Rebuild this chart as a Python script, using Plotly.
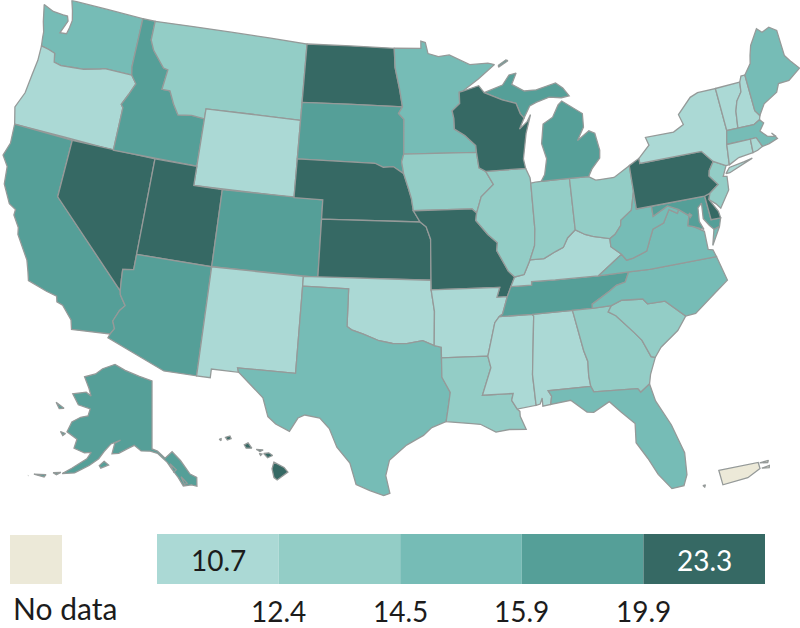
import plotly.graph_objects as go

# Legend breaks, colours
breaks = [10.7, 12.4, 14.5, 15.9, 19.9, 23.3]
bin_colors = ["#abd9d5", "#93cdc6", "#76bcb6", "#559f98", "#366964"]
no_data_color = "#ece9d8"
border_color = "#959a99"

# Estimated state values (read by colour class from the picture)
state_values = {
 "WA":15.0,"OR":11.5,"CA":17.0,"NV":21.0,"ID":17.5,"MT":13.5,"WY":11.5,"UT":21.5,"CO":17.0,"AZ":17.0,
 "NM":11.5,"ND":21.0,"SD":17.0,"NE":21.0,"KS":21.0,"OK":11.5,"TX":15.0,"MN":15.0,"IA":13.5,"MO":21.0,
 "AR":11.5,"LA":13.5,"WI":21.0,"IL":13.5,"MI":17.0,"IN":13.5,"OH":13.5,"KY":11.5,"TN":17.0,"MS":11.5,
 "AL":11.5,"GA":13.5,"FL":15.0,"SC":13.5,"NC":15.0,"VA":15.0,"WV":15.0,"PA":21.0,"NY":11.5,"NJ":13.5,
 "MD":17.0,"DE":23.3,"DC":15.0,"VT":11.5,"NH":11.5,"ME":15.0,"MA":15.0,"CT":12.0,"RI":11.5,"AK":17.0,"HI":21.0,
}

# State outlines (lon, lat)
outlines = {
"WA":[[(-124.73,48.38),(-123.9,48.17),(-123.1,48.15),(-122.75,48.15),(-122.6,47.9),(-122.95,47.2),(-122.45,47.25),(-122.35,47.6),(-122.3,48.0),(-122.5,48.5),(-122.76,49.0),(-117.03,49.0),(-117.04,46.42),(-116.92,46.0),(-118.98,46.0),(-119.3,45.93),(-120.5,45.7),(-121.2,45.65),(-122.2,45.57),(-122.75,45.65),(-122.9,46.1),(-123.4,46.2),(-124.0,46.27),(-124.1,46.7),(-124.15,47.0),(-124.4,47.5)]],
"OR":[[(-124.0,46.27),(-123.4,46.2),(-122.9,46.1),(-122.75,45.65),(-122.2,45.57),(-121.2,45.65),(-120.5,45.7),(-119.3,45.93),(-118.98,46.0),(-116.92,46.0),(-116.48,45.6),(-116.85,44.95),(-117.2,44.4),(-117.03,44.25),(-117.03,42.0),(-124.21,42.0),(-124.55,42.85),(-124.15,43.7),(-124.05,44.7),(-123.95,45.5)]],
"CA":[[(-124.21,42.0),(-120.0,42.0),(-120.0,39.0),(-114.63,35.0),(-114.57,34.8),(-114.14,34.3),(-114.43,34.0),(-114.72,33.4),(-114.52,33.03),(-114.72,32.72),(-117.12,32.53),(-117.28,33.0),(-118.0,33.65),(-118.4,33.75),(-118.5,34.03),(-119.2,34.15),(-120.47,34.45),(-120.65,34.9),(-120.9,35.45),(-121.9,36.6),(-122.0,36.95),(-122.5,37.5),(-122.5,37.8),(-123.0,38.0),(-123.7,38.9),(-123.85,39.8),(-124.35,40.3),(-124.1,41.0)]],
"NV":[[(-120.0,42.0),(-114.04,42.0),(-114.04,36.2),(-114.74,36.1),(-114.7,35.6),(-114.63,35.0),(-120.0,39.0)]],
"ID":[[(-117.03,49.0),(-116.05,49.0),(-116.05,48.0),(-115.7,47.5),(-114.7,46.7),(-114.35,46.65),(-114.5,45.6),(-113.9,45.6),(-113.45,44.95),(-113.0,44.45),(-112.0,44.55),(-111.05,44.48),(-111.05,42.0),(-117.03,42.0),(-117.03,44.25),(-117.2,44.4),(-116.85,44.95),(-116.48,45.6),(-116.92,46.0),(-117.04,46.42)]],
"MT":[[(-116.05,49.0),(-104.05,49.0),(-104.05,45.0),(-111.05,45.0),(-111.05,44.48),(-112.0,44.55),(-113.0,44.45),(-113.45,44.95),(-113.9,45.6),(-114.5,45.6),(-114.35,46.65),(-114.7,46.7),(-115.7,47.5),(-116.05,48.0)]],
"WY":[[(-111.05,45.0),(-104.05,45.0),(-104.05,41.0),(-111.05,41.0)]],
"UT":[[(-114.04,42.0),(-111.05,42.0),(-111.05,41.0),(-109.05,41.0),(-109.05,37.0),(-114.04,37.0)]],
"CO":[[(-109.05,41.0),(-102.05,41.0),(-102.05,37.0),(-109.05,37.0)]],
"AZ":[[(-114.04,37.0),(-109.05,37.0),(-109.05,31.33),(-111.07,31.33),(-114.81,32.5),(-114.72,32.72),(-114.52,33.03),(-114.72,33.4),(-114.43,34.0),(-114.14,34.3),(-114.57,34.8),(-114.63,35.0),(-114.7,35.6),(-114.74,36.1),(-114.04,36.2)]],
"NM":[[(-109.05,37.0),(-103.0,37.0),(-103.04,32.0),(-106.62,32.0),(-106.53,31.78),(-108.21,31.78),(-108.21,31.33),(-109.05,31.33)]],
"ND":[[(-104.05,49.0),(-97.23,49.0),(-97.15,48.0),(-96.8,46.9),(-96.56,45.94),(-104.05,45.94)]],
"SD":[[(-104.05,45.94),(-96.56,45.94),(-96.85,45.6),(-96.45,45.3),(-96.45,43.5),(-96.6,43.1),(-96.45,42.49),(-97.2,42.85),(-97.9,42.8),(-98.5,43.0),(-104.05,43.0)]],
"NE":[[(-104.05,43.0),(-98.5,43.0),(-97.9,42.8),(-97.2,42.85),(-96.45,42.49),(-96.1,41.7),(-95.9,41.2),(-95.77,40.58),(-95.31,40.0),(-102.05,40.0),(-102.05,41.0),(-104.05,41.0)]],
"KS":[[(-102.05,40.0),(-95.31,40.0),(-94.9,39.75),(-94.61,39.11),(-94.62,37.0),(-102.05,37.0)]],
"OK":[[(-103.0,37.0),(-94.62,37.0),(-94.62,36.5),(-94.43,35.4),(-94.48,33.64),(-95.2,33.9),(-96.2,33.75),(-97.1,33.75),(-97.95,33.88),(-98.95,34.2),(-99.7,34.4),(-100.0,34.56),(-100.0,36.5),(-103.0,36.5)]],
"TX":[[(-103.0,36.5),(-100.0,36.5),(-100.0,34.56),(-99.7,34.4),(-98.95,34.2),(-97.95,33.88),(-97.1,33.75),(-96.2,33.75),(-95.2,33.9),(-94.48,33.64),(-94.04,33.55),(-94.04,32.0),(-93.55,31.2),(-93.7,30.4),(-93.84,29.7),(-94.7,29.4),(-95.2,29.0),(-96.2,28.5),(-97.2,27.7),(-97.4,26.9),(-97.15,25.97),(-97.5,25.85),(-98.3,26.1),(-99.1,26.4),(-99.5,27.5),(-100.3,28.3),(-100.8,29.25),(-101.4,29.77),(-102.3,29.88),(-102.7,29.7),(-103.15,28.98),(-104.0,29.3),(-104.5,29.65),(-104.9,30.6),(-106.53,31.78),(-106.62,32.0),(-103.04,32.0)]],
"MN":[[(-97.23,49.0),(-95.15,49.0),(-95.15,49.38),(-94.8,49.3),(-94.6,48.72),(-93.8,48.55),(-92.95,48.62),(-91.4,48.07),(-90.0,48.1),(-89.5,48.0),(-90.8,47.3),(-92.01,46.71),(-92.29,46.66),(-92.29,46.07),(-92.87,45.7),(-92.76,45.3),(-92.75,44.75),(-92.0,44.4),(-91.25,43.85),(-91.22,43.5),(-96.45,43.5),(-96.45,45.3),(-96.85,45.6),(-96.56,45.94),(-96.8,46.9),(-97.15,48.0)]],
"IA":[[(-96.45,43.5),(-91.22,43.5),(-91.1,42.7),(-90.64,42.5),(-90.15,41.8),(-91.05,41.2),(-91.42,40.38),(-91.72,40.6),(-95.77,40.58),(-95.9,41.2),(-96.1,41.7),(-96.45,42.49),(-96.6,43.1)]],
"MO":[[(-95.77,40.58),(-91.72,40.6),(-91.42,40.38),(-91.5,40.0),(-90.73,39.25),(-90.12,38.8),(-90.2,38.4),(-89.52,37.3),(-89.13,36.98),(-89.42,36.5),(-89.7,36.0),(-90.37,36.0),(-90.15,36.5),(-94.62,36.5),(-94.62,37.0),(-94.61,39.11),(-94.9,39.75),(-95.31,40.0)]],
"AR":[[(-94.62,36.5),(-90.15,36.5),(-90.37,36.0),(-89.7,36.0),(-90.07,35.13),(-90.3,35.0),(-90.6,34.7),(-91.15,33.0),(-94.04,33.0),(-94.04,33.55),(-94.48,33.64),(-94.43,35.4)]],
"LA":[[(-94.04,33.0),(-91.15,33.0),(-91.0,32.4),(-91.6,31.0),(-89.73,31.0),(-89.85,30.65),(-89.55,30.18),(-89.4,30.05),(-89.4,29.8),(-89.1,29.1),(-90.1,29.15),(-90.9,29.05),(-91.8,29.5),(-92.3,29.55),(-93.84,29.7),(-93.7,30.4),(-93.55,31.2),(-94.04,32.0)]],
"MS":[[(-90.3,35.0),(-88.2,35.0),(-88.1,34.9),(-88.47,31.9),(-88.4,30.3),(-89.55,30.18),(-89.85,30.65),(-89.73,31.0),(-91.6,31.0),(-91.0,32.4),(-91.15,33.0),(-90.6,34.7)]],
"AL":[[(-88.2,35.0),(-85.6,35.0),(-85.18,32.87),(-85.0,32.3),(-85.05,31.55),(-85.0,31.0),(-87.6,31.0),(-87.42,30.7),(-87.52,30.28),(-88.0,30.23),(-88.0,30.65),(-88.15,30.35),(-88.4,30.3),(-88.47,31.9),(-88.1,34.9)]],
"TN":[[(-90.3,35.0),(-90.07,35.13),(-89.7,36.0),(-89.42,36.5),(-88.07,36.5),(-88.05,36.68),(-86.5,36.65),(-83.68,36.6),(-81.68,36.59),(-82.0,36.1),(-82.6,36.0),(-83.1,35.75),(-84.3,35.2),(-84.32,34.99),(-85.6,35.0),(-88.2,35.0)]],
"KY":[[(-89.42,36.5),(-89.13,36.98),(-88.5,37.07),(-88.03,37.8),(-87.1,37.8),(-86.3,38.1),(-85.75,38.27),(-85.4,38.73),(-84.82,39.1),(-84.2,38.8),(-83.7,38.65),(-82.59,38.42),(-82.6,38.0),(-81.97,37.54),(-83.68,36.6),(-86.5,36.65),(-88.05,36.68),(-88.07,36.5)]],
"IL":[[(-90.64,42.5),(-87.8,42.5),(-87.55,42.0),(-87.53,41.72),(-87.53,39.35),(-87.65,38.5),(-88.03,37.8),(-88.5,37.07),(-89.13,36.98),(-89.52,37.3),(-90.2,38.4),(-90.12,38.8),(-90.73,39.25),(-91.5,40.0),(-91.42,40.38),(-91.05,41.2),(-90.15,41.8)]],
"IN":[[(-87.53,41.72),(-87.2,41.75),(-86.8,41.76),(-84.8,41.76),(-84.82,39.1),(-85.4,38.73),(-85.75,38.27),(-86.3,38.1),(-87.1,37.8),(-88.03,37.8),(-87.65,38.5),(-87.53,39.35)]],
"OH":[[(-84.8,41.76),(-83.45,41.73),(-83.0,41.5),(-82.7,41.5),(-81.7,41.5),(-80.52,41.98),(-80.52,40.64),(-80.87,39.7),(-81.68,39.27),(-81.75,39.0),(-82.2,38.6),(-82.59,38.42),(-83.7,38.65),(-84.2,38.8),(-84.82,39.1)]],
"MI":[[(-86.8,41.76),(-84.8,41.76),(-83.45,41.73),(-83.15,42.1),(-82.5,42.6),(-82.42,43.0),(-82.6,43.9),(-83.0,44.07),(-83.9,43.65),(-83.35,44.3),(-83.3,45.0),(-84.7,45.78),(-85.0,45.6),(-85.5,45.0),(-86.25,44.7),(-86.5,43.7),(-86.25,42.9),(-86.5,42.1)],
      [(-90.42,46.57),(-89.0,46.9),(-88.45,47.4),(-87.9,47.47),(-88.3,46.9),(-87.4,46.5),(-86.5,46.5),(-85.0,46.75),(-84.5,46.45),(-84.1,46.0),(-84.7,45.95),(-85.6,46.05),(-86.6,45.85),(-87.1,45.7),(-87.6,45.1),(-87.85,45.35),(-88.1,45.9),(-89.1,46.13)],
      [(-89.2,47.85),(-88.45,48.15),(-88.6,48.2),(-89.2,47.95)]],
"WI":[[(-92.01,46.71),(-90.8,46.95),(-90.42,46.57),(-89.1,46.13),(-88.1,45.9),(-87.85,45.35),(-87.6,45.1),(-88.0,44.55),(-87.4,44.9),(-87.1,45.25),(-87.55,44.3),(-87.9,43.0),(-87.8,42.5),(-90.64,42.5),(-91.1,42.7),(-91.22,43.5),(-91.25,43.85),(-92.0,44.4),(-92.75,44.75),(-92.76,45.3),(-92.87,45.7),(-92.29,46.07),(-92.29,46.66)]],
"GA":[[(-85.6,35.0),(-84.32,34.99),(-83.1,35.0),(-83.35,34.7),(-82.9,34.45),(-81.95,33.5),(-81.5,33.0),(-81.1,32.1),(-80.85,32.03),(-81.3,31.2),(-81.45,30.72),(-82.05,30.36),(-82.2,30.57),(-84.86,30.7),(-85.0,31.0),(-85.05,31.55),(-85.0,32.3),(-85.18,32.87)]],
"FL":[[(-87.6,31.0),(-85.0,31.0),(-84.86,30.7),(-82.2,30.57),(-82.05,30.36),(-81.45,30.72),(-81.25,29.8),(-80.55,28.45),(-80.05,26.9),(-80.13,25.75),(-80.4,25.2),(-81.1,25.15),(-81.75,26.0),(-82.2,26.9),(-82.75,27.8),(-82.65,28.8),(-83.4,29.5),(-84.0,30.1),(-85.0,29.65),(-85.4,29.7),(-86.3,30.4),(-87.52,30.28),(-87.42,30.7)]],
"SC":[[(-83.35,34.7),(-83.1,35.0),(-82.4,35.2),(-81.05,35.1),(-80.8,34.82),(-79.67,34.8),(-78.55,33.86),(-79.2,33.2),(-80.4,32.5),(-80.85,32.03),(-81.1,32.1),(-81.5,33.0),(-81.95,33.5),(-82.9,34.45)]],
"NC":[[(-84.32,34.99),(-84.3,35.2),(-83.1,35.75),(-82.6,36.0),(-82.0,36.1),(-81.68,36.59),(-80.3,36.55),(-75.87,36.55),(-75.5,35.25),(-76.5,34.7),(-77.9,33.9),(-78.55,33.86),(-79.67,34.8),(-80.8,34.82),(-81.05,35.1),(-82.4,35.2),(-83.1,35.0)]],
"VA":[[(-83.68,36.6),(-81.97,37.54),(-81.7,37.2),(-81.25,37.25),(-80.3,37.5),(-80.0,38.0),(-79.65,38.55),(-78.87,38.77),(-78.35,39.4),(-77.83,39.13),(-77.72,39.32),(-77.1,38.9),(-77.3,38.4),(-76.95,38.3),(-76.3,37.95),(-76.3,37.0),(-76.0,36.92),(-75.87,36.55),(-80.3,36.55),(-81.68,36.59)],
      [(-75.95,37.15),(-75.65,37.95),(-75.25,38.03)]],
"WV":[[(-80.52,40.64),(-80.52,39.72),(-79.48,39.72),(-79.48,39.2),(-78.4,39.6),(-77.72,39.32),(-77.83,39.13),(-78.35,39.4),(-78.87,38.77),(-79.65,38.55),(-80.0,38.0),(-80.3,37.5),(-81.25,37.25),(-81.7,37.2),(-81.97,37.54),(-82.6,38.0),(-82.59,38.42),(-82.2,38.6),(-81.75,39.0),(-81.68,39.27),(-80.87,39.7)]],
"MD":[[(-79.48,39.72),(-75.79,39.72),(-75.7,38.46),(-75.05,38.45),(-75.25,38.03),(-75.65,37.95),(-75.9,38.2),(-76.2,38.6),(-76.1,39.4),(-76.4,39.2),(-76.5,38.5),(-76.3,38.05),(-76.95,38.3),(-77.3,38.4),(-77.1,38.9),(-77.72,39.32),(-78.4,39.6),(-79.48,39.2)]],
"DE":[[(-75.79,39.72),(-75.4,39.8),(-75.55,39.5),(-75.1,38.8),(-75.05,38.45),(-75.7,38.46)]],
"DC":[[(-77.12,38.93),(-77.04,39.0),(-76.91,38.89),(-77.04,38.79)]],
"PA":[[(-80.52,41.98),(-79.76,42.27),(-79.76,42.0),(-75.35,42.0),(-74.7,41.36),(-75.1,40.95),(-75.2,40.68),(-74.72,40.15),(-75.4,39.8),(-75.79,39.72),(-80.52,39.72)]],
"NJ":[[(-74.7,41.36),(-73.9,41.0),(-74.25,40.5),(-74.0,40.45),(-74.1,39.75),(-74.9,38.93),(-75.15,39.2),(-75.55,39.5),(-75.4,39.8),(-74.72,40.15),(-75.2,40.68),(-75.1,40.95)]],
"NY":[[(-79.76,42.27),(-78.9,42.85),(-79.05,43.27),(-77.0,43.27),(-76.2,43.55),(-76.4,44.1),(-75.3,44.85),(-74.7,45.0),(-73.35,45.0),(-73.27,42.75),(-73.5,42.05),(-73.66,41.0),(-73.9,41.0),(-74.7,41.36),(-75.35,42.0),(-79.76,42.0)],
      [(-74.03,40.6),(-73.7,40.87),(-72.6,40.98),(-72.0,41.05),(-73.75,40.6)]],
"VT":[[(-73.35,45.0),(-71.5,45.01),(-71.6,44.5),(-72.05,44.1),(-72.3,43.6),(-72.46,42.73),(-73.27,42.75)]],
"NH":[[(-71.5,45.01),(-71.3,45.3),(-71.0,45.3),(-70.98,43.38),(-70.72,43.07),(-70.82,42.87),(-71.3,42.7),(-72.46,42.73),(-72.3,43.6),(-72.05,44.1),(-71.6,44.5)]],
"ME":[[(-71.0,45.3),(-70.4,45.8),(-70.25,46.2),(-70.0,46.7),(-69.23,47.46),(-68.9,47.2),(-68.3,47.35),(-67.79,47.07),(-67.79,45.7),(-67.45,45.3),(-67.0,44.85),(-68.0,44.4),(-68.8,44.4),(-69.1,44.0),(-70.2,43.6),(-70.72,43.07),(-70.98,43.38)]],
"MA":[[(-73.5,42.05),(-73.27,42.75),(-72.46,42.73),(-71.3,42.7),(-70.82,42.87),(-70.6,42.65),(-71.0,42.3),(-70.6,41.95),(-70.0,41.8),(-70.25,42.05),(-69.95,41.7),(-70.6,41.55),(-71.12,41.5),(-71.38,42.02),(-71.8,42.02)]],
"CT":[[(-73.5,42.05),(-71.8,42.02),(-71.85,41.32),(-72.9,41.25),(-73.66,41.0)]],
"RI":[[(-71.8,42.02),(-71.38,42.02),(-71.12,41.5),(-71.5,41.37),(-71.85,41.32)]],
"AK":[[(-141.0,69.65),(-141.0,60.3),(-139.5,60.0),(-137.5,59.0),(-135.5,59.8),(-133.5,58.5),(-131.5,56.5),(-130.0,55.9),(-130.3,54.7),(-131.5,55.0),(-133.5,55.0),(-134.5,56.2),(-136.0,57.5),(-137.0,58.4),(-139.5,59.7),(-141.5,60.0),(-144.0,60.0),(-146.0,60.7),(-148.0,60.1),(-150.0,59.4),(-151.8,59.2),(-151.5,60.7),(-150.0,61.2),(-152.5,60.5),(-154.0,59.3),(-155.0,58.2),(-157.0,57.0),(-160.0,55.5),(-162.8,54.9),(-161.0,56.0),(-158.0,57.8),(-157.3,58.8),(-159.0,58.5),(-162.0,58.7),(-162.0,60.0),(-165.3,60.5),(-165.0,62.0),(-163.0,63.0),(-161.0,63.5),(-161.0,64.5),(-165.0,64.5),(-168.0,65.6),(-164.0,66.5),(-162.0,66.2),(-163.5,67.1),(-166.5,68.4),(-163.0,69.3),(-161.0,70.3),(-156.6,71.35),(-152.0,70.8),(-146.0,70.2)],
      [(-154.5,57.3),(-154.0,57.0),(-152.2,57.6),(-153.5,58.0)],
      [(-171.7,63.6),(-168.7,63.3),(-170.0,63.0)],
      [(-167.0,60.2),(-165.5,60.2),(-166.0,59.8)],
      [(-164.9,54.6),(-163.2,55.0),(-164.0,54.5)],
      [(-168.9,53.4),(-166.3,54.0),(-166.5,53.6)],
      [(-172.6,52.3),(-170.0,52.9),(-170.2,52.6)],
      [(-133.8,56.3),(-132.5,55.3),(-133.2,55.2)],
      [(-136.3,58.2),(-134.8,57.3),(-135.5,57.0)]],
"HI":[[(-155.9,20.25),(-155.1,19.85),(-154.8,19.5),(-155.65,18.92),(-155.9,19.1),(-156.05,19.75)],
      [(-156.7,20.9),(-156.3,20.95),(-156.0,20.75),(-156.4,20.58)],
      [(-157.3,21.2),(-156.75,21.17),(-157.0,21.05)],
      [(-157.05,20.9),(-156.85,20.85),(-156.95,20.75)],
      [(-158.25,21.55),(-157.95,21.7),(-157.65,21.3),(-158.1,21.3)],
      [(-159.75,22.1),(-159.4,22.2),(-159.3,22.0),(-159.6,21.9)],
      [(-160.25,21.95),(-160.1,22.0),(-160.1,21.85)]],
}
puerto_rico = [[(-67.2,18.5),(-65.65,18.38),(-65.65,18.15),(-66.2,17.95),(-67.2,17.95)],
               [(-67.95,18.12),(-67.85,18.12),(-67.9,18.05)],
               [(-65.6,18.35),(-65.25,18.35),(-65.3,18.28)],
               [(-65.58,18.14),(-65.27,18.16),(-65.3,18.08)]]

def clockwise(ring):
    a = sum(ring[i][0]*ring[(i+1)%len(ring)][1]-ring[(i+1)%len(ring)][0]*ring[i][1] for i in range(len(ring)))
    return ring if a < 0 else ring[::-1]

def flatten(rings):
    lon, lat = [], []
    for ring in rings:
        r = clockwise(ring)
        r = r + [r[0]]
        lon += [p[0] for p in r] + [None]
        lat += [p[1] for p in r] + [None]
    return lon[:-1], lat[:-1]

def color_for(v):
    for i in range(5):
        if v <= breaks[i+1]:
            return bin_colors[i]
    return bin_colors[-1]

fig = go.Figure()
def add(code, rings, color, geo):
    lon, lat = flatten(rings)
    fig.add_trace(go.Scattergeo(lon=lon, lat=lat, mode="lines", fill="toself", fillcolor=color,
                                line=dict(color=border_color, width=1.3), name=code,
                                showlegend=False, hoverinfo="name", geo=geo))

for code, rings in outlines.items():
    geo = {"AK": "geo2", "HI": "geo3"}.get(code, "geo")
    add(code, rings, color_for(state_values[code]), geo)
add("PR", puerto_rico, no_data_color, "geo4")

W, H = 800, 628
def dom(x0, x1, y0, y1):
    return dict(x=[x0/W, x1/W], y=[1-y1/H, 1-y0/H])

fig.update_layout(
    width=W, height=H, margin=dict(l=0, r=0, t=0, b=0), paper_bgcolor="white",
    geo=dict(visible=False, bgcolor="rgba(0,0,0,0)",
             projection=dict(type="albers", parallels=[29.5, 45.5], rotation=dict(lon=-96)),
             lonaxis_range=[-118.71, -73.29], lataxis_range=[24.5, 48.55], center=dict(lon=-96.67, lat=38.56),
             domain=dom(0, 800, 0, 500)),
    geo2=dict(visible=False, bgcolor="rgba(0,0,0,0)",
              projection=dict(type="albers", parallels=[55, 65], rotation=dict(lon=-141), scale=0.76),
              lonaxis_range=[-172, -129], lataxis_range=[52, 72],
              domain=dom(2, 302, 330, 543)),
    geo3=dict(visible=False, bgcolor="rgba(0,0,0,0)",
              projection=dict(type="albers", parallels=[8, 18], rotation=dict(lon=-157), scale=0.77),
              lonaxis_range=[-160.5, -154.5], lataxis_range=[18.9, 22.3],
              domain=dom(210.5, 309.5, 427, 488)),
    geo4=dict(visible=False, bgcolor="rgba(0,0,0,0)",
              projection=dict(type="mercator", rotation=dict(lon=-66.6, lat=18.2, roll=16)),
              lonaxis_range=[-68.1, -65.1], lataxis_range=[17.5, 18.9],
              domain=dom(688, 784, 445, 503)),
)

# Legend
BAR_L, BAR_R, BAR_T, BAR_B = 157, 765, 534, 584
step = (BAR_R - BAR_L) / 5
shapes = [dict(type="rect", xref="paper", yref="paper", line_width=0, fillcolor=no_data_color,
               x0=10/W, x1=62/W, y0=1-584/H, y1=1-535/H)]
for i, c in enumerate(bin_colors):
    shapes.append(dict(type="rect", xref="paper", yref="paper", line_width=0, fillcolor=c,
                       x0=(BAR_L+i*step)/W, x1=(BAR_L+(i+1)*step)/W, y0=1-BAR_B/H, y1=1-BAR_T/H))
ann = []
def label(text, px, py, color="#1c1c1c", anchor="center", size=28):
    ann.append(dict(text=text, x=px/W, y=1-py/H, xref="paper", yref="paper", showarrow=False,
                    xanchor=anchor, yanchor="middle", font=dict(family="Lato", size=size, color=color)))
label(str(breaks[0]), 218, 560)
label(str(breaks[-1]), 704, 560, color="white")
for i in range(1, 5):
    label(str(breaks[i]), BAR_L+i*step, 611)
label("No data", 11, 608, anchor="left", size=30)
fig.update_layout(shapes=shapes, annotations=ann)
fig.write_html("out.html", config=dict(displayModeBar=False),
               post_script="document.body.style.margin='0';document.documentElement.style.overflow='hidden';")
